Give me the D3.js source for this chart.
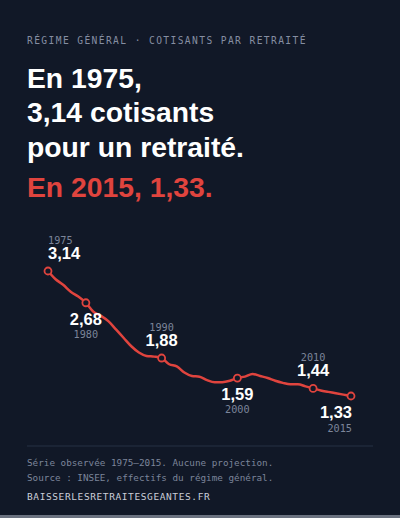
<!DOCTYPE html>
<html><head><meta charset="utf-8">
<script src="https://cdn.jsdelivr.net/npm/d3@7"></script>
<style>
html,body{margin:0;padding:0;background:#6b7280;}
svg{display:block;}
</style></head><body>
<svg id="c" width="400" height="518"></svg>
<script>
const years = d3.range(1975, 2016);
const values = [3.14,3.02,2.94,2.84,2.77,2.68,2.55,2.49,2.41,2.29,2.17,2.05,1.96,1.91,1.90,1.88,1.79,1.76,1.67,1.62,1.61,1.56,1.53,1.53,1.55,1.59,1.61,1.65,1.62,1.59,1.55,1.52,1.50,1.50,1.47,1.44,1.41,1.39,1.37,1.35,1.33];
const keyYears = [1975,1980,1990,2000,2010,2015];
const keyLabels = ["3,14","2,68","1,88","1,59","1,44","1,33"];
const keyPos = ["aboveStart","below","above","below","above","belowEnd"];

const red = "#e0443e", bg = "#111827";
const svg = d3.select("#c");
svg.append("rect").attr("width",400).attr("height",515).attr("fill",bg);
const mono = "'DejaVu Sans Mono', monospace";
const sans = "'Liberation Sans', Arial, sans-serif";

svg.append("text").attr("x",27).attr("y",44).attr("fill","#858ea2").attr("font-family",mono)
  .attr("font-size",9.6).attr("letter-spacing",1.4).text("RÉGIME GÉNÉRAL · COTISANTS PAR RETRAITÉ");
const titles = [["En 1975,",88,"#fff"],["3,14 cotisants",122,"#fff"],["pour un retraité.",157,"#fff"],["En 2015, 1,33.",197,red]];
titles.forEach(t=>svg.append("text").attr("x",27).attr("y",t[1]).attr("fill",t[2])
  .attr("font-family",sans).attr("font-weight","bold").attr("font-size",28.3).text(t[0]));

const x = d3.scaleLinear().domain([1975,2015]).range([48,351]);
const y = d3.scaleLinear().domain([1.33,3.14]).range([396,271]);
const data = years.map((yr,i)=>({yr,v:values[i]}));
svg.append("path").datum(data).attr("fill","none").attr("stroke",red).attr("stroke-width",2.5)
  .attr("stroke-linejoin","round")
  .attr("d",d3.line().x(d=>x(d.yr)).y(d=>y(d.v)).curve(d3.curveMonotoneX));

keyYears.forEach((yr,i)=>{
  const v = values[years.indexOf(yr)];
  const cx = x(yr), cy = y(v);
  svg.append("circle").attr("cx",cx).attr("cy",cy).attr("r",3.5).attr("fill",bg).attr("stroke",red).attr("stroke-width",1.8);
  const p = keyPos[i];
  let anchor="middle", vy, yy;
  if (p==="aboveStart"){anchor="start"; yy=cy-27; vy=cy-12;}
  else if (p==="above"){yy=cy-27; vy=cy-12;}
  else if (p==="below"){vy=cy+22; yy=cy+35;}
  else {anchor="end"; vy=cy+22; yy=cy+36;}
  const ax = p==="belowEnd"?cx+1:cx;
  svg.append("text").attr("x",ax).attr("y",yy).attr("text-anchor",anchor).attr("fill","#7c859a")
    .attr("font-family",mono).attr("font-size",10.2).text(yr);
  svg.append("text").attr("x",ax).attr("y",vy).attr("text-anchor",anchor).attr("fill","#fff")
    .attr("font-family",sans).attr("font-weight","bold").attr("font-size",16.5).text(keyLabels[i]);
});

svg.append("line").attr("x1",27).attr("x2",373).attr("y1",446).attr("y2",446).attr("stroke","#263044");
svg.append("text").attr("x",27).attr("y",466).attr("fill","#7c859a").attr("font-family",mono).attr("font-size",9.3)
  .text("Série observée 1975–2015. Aucune projection.");
svg.append("text").attr("x",27).attr("y",481).attr("fill","#7c859a").attr("font-family",mono).attr("font-size",9.3)
  .text("Source : INSEE, effectifs du régime général.");
svg.append("text").attr("x",27).attr("y",500).attr("fill","#c9ced8").attr("font-family",mono).attr("font-size",9.5)
  .attr("letter-spacing",0.6).text("BAISSERLESRETRAITESGEANTES.FR");
</script></body></html>
